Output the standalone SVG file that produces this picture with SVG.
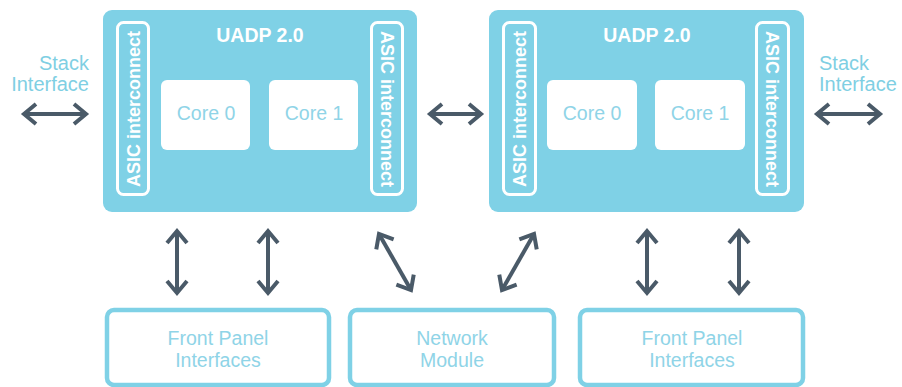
<svg xmlns="http://www.w3.org/2000/svg" width="902" height="387" viewBox="0 0 902 387">
<defs>
<style>
.chip{fill:#7fd1e6}
.asic{fill:none;stroke:#ffffff;stroke-width:3}
.core{fill:#ffffff}
.title{font-family:"Liberation Sans",Arial,sans-serif;font-weight:bold;font-size:19.5px;fill:#ffffff;text-anchor:middle}
.asict{font-family:"Liberation Sans",Arial,sans-serif;font-weight:bold;font-size:18px;fill:#ffffff;text-anchor:middle}
.coret{font-family:"Liberation Sans",Arial,sans-serif;font-size:19.5px;fill:#8fd4e7;text-anchor:middle}
.lbl{font-family:"Liberation Sans",Arial,sans-serif;font-size:20px;fill:#7fcfe3}
.box{fill:#ffffff;stroke:#7fd1e6;stroke-width:4.5}
.boxt{font-family:"Liberation Sans",Arial,sans-serif;font-size:19.5px;fill:#8fd4e7;text-anchor:middle}
.arr{fill:none;stroke:#4a5a68;stroke-width:4;marker-start:url(#chev);marker-end:url(#chev)}
</style>
<marker id="chev" viewBox="-16 -13 18 26" refX="0" refY="0" markerWidth="18" markerHeight="26" markerUnits="userSpaceOnUse" orient="auto-start-reverse" overflow="visible">
<path d="M-12,-10 L0,0 L-12,10" fill="none" stroke="#4a5a68" stroke-width="4"/>
</marker>
</defs>

<g id="stack-left">
<text class="lbl" x="89" y="70" text-anchor="end">Stack</text>
<text class="lbl" x="89" y="91" text-anchor="end">Interface</text>
</g>
<g id="stack-right">
<text class="lbl" x="819" y="70">Stack</text>
<text class="lbl" x="819" y="91">Interface</text>
</g>

<g id="uadp-left">
<rect class="chip" x="103" y="10" width="314" height="202" rx="9"/>
<text class="title" x="260" y="42">UADP 2.0</text>
<rect class="asic" x="117.5" y="22.5" width="31" height="172" rx="6"/>
<text class="asict" transform="translate(133,109) rotate(-90)" y="6.5">ASIC interconnect</text>
<rect class="asic" x="371.5" y="22.5" width="31" height="172" rx="6"/>
<text class="asict" transform="translate(387,109) rotate(90)" y="6.5">ASIC interconnect</text>
<g id="core0-left">
<rect class="core" x="161" y="80" width="89" height="70" rx="6"/>
<text class="coret" x="206" y="120">Core 0</text>
</g>
<g id="core1-left">
<rect class="core" x="269" y="80" width="89" height="70" rx="6"/>
<text class="coret" x="314" y="120">Core 1</text>
</g>
</g>

<g id="uadp-right">
<rect class="chip" x="489" y="10" width="315" height="202" rx="9"/>
<text class="title" x="647" y="42">UADP 2.0</text>
<rect class="asic" x="503.5" y="22.5" width="32" height="172" rx="6"/>
<text class="asict" transform="translate(519.5,109) rotate(-90)" y="6.5">ASIC interconnect</text>
<rect class="asic" x="756.5" y="22.5" width="32" height="172" rx="6"/>
<text class="asict" transform="translate(772.5,109) rotate(90)" y="6.5">ASIC interconnect</text>
<g id="core0-right">
<rect class="core" x="547" y="80" width="90" height="70" rx="6"/>
<text class="coret" x="592" y="120">Core 0</text>
</g>
<g id="core1-right">
<rect class="core" x="655" y="80" width="90" height="70" rx="6"/>
<text class="coret" x="700" y="120">Core 1</text>
</g>
</g>

<g id="front-panel-left">
<rect class="box" x="107" y="310" width="222" height="75" rx="7"/>
<text class="boxt" x="218" y="345">Front Panel</text>
<text class="boxt" x="218" y="367">Interfaces</text>
</g>
<g id="network-module">
<rect class="box" x="350" y="310" width="204" height="75" rx="7"/>
<text class="boxt" x="452" y="345">Network</text>
<text class="boxt" x="452" y="367">Module</text>
</g>
<g id="front-panel-right">
<rect class="box" x="580" y="310" width="223" height="75" rx="7"/>
<text class="boxt" x="692" y="345">Front Panel</text>
<text class="boxt" x="692" y="367">Interfaces</text>
</g>

<g id="connectors">
<line class="arr" x1="24" y1="114" x2="86" y2="114"/>
<line class="arr" x1="430" y1="114" x2="481" y2="114"/>
<line class="arr" x1="817" y1="114" x2="880" y2="114"/>
<line class="arr" x1="177" y1="231" x2="177" y2="293"/>
<line class="arr" x1="268" y1="231" x2="268" y2="293"/>
<line class="arr" x1="379" y1="234" x2="411" y2="290"/>
<line class="arr" x1="534" y1="234" x2="502" y2="290"/>
<line class="arr" x1="647" y1="231" x2="647" y2="293"/>
<line class="arr" x1="739" y1="231" x2="739" y2="293"/>
</g>
</svg>
